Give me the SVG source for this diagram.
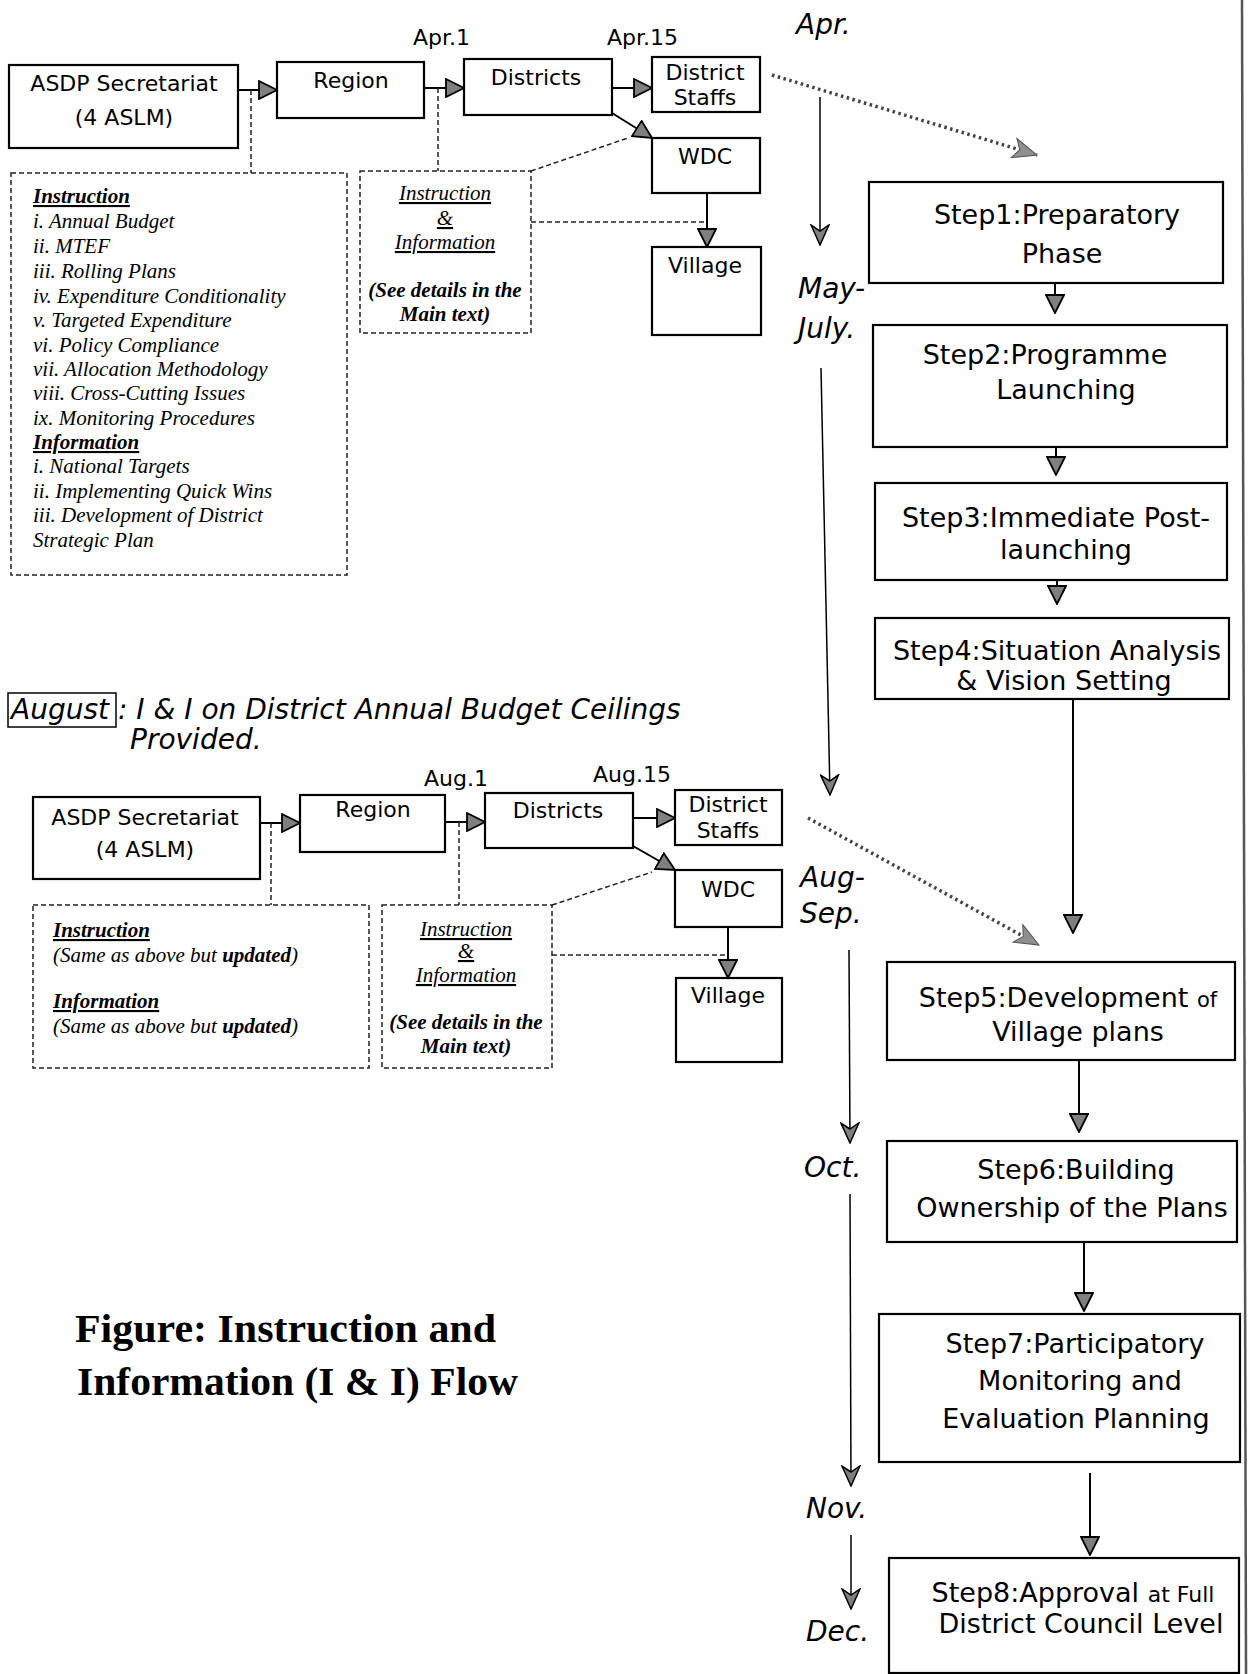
<svg xmlns="http://www.w3.org/2000/svg" width="1255" height="1674" viewBox="0 0 1255 1674">
<defs>
<marker id="ah" viewBox="0 0 20 20" refX="19" refY="10" markerWidth="20" markerHeight="20" markerUnits="userSpaceOnUse" orient="auto">
<path d="M1,1 L19,10 L1,19 Z" fill="#7f7f7f" stroke="#000" stroke-width="1.8"/>
</marker>
<marker id="tv" viewBox="0 0 22 20" refX="21" refY="10" markerWidth="22" markerHeight="20" markerUnits="userSpaceOnUse" orient="auto">
<path d="M1,1 L21,10 L1,19 L7,10 Z" fill="#7f7f7f" stroke="#000" stroke-width="1.5"/>
</marker>
<marker id="dh" viewBox="0 0 26 22" refX="25" refY="11" markerWidth="26" markerHeight="22" markerUnits="userSpaceOnUse" orient="auto">
<path d="M1,1 L25,11 L1,21 L7,11 Z" fill="#8f8f8f" stroke="#555" stroke-width="1"/>
</marker>
</defs>
<style>
.box{fill:#fff;stroke:#000;stroke-width:2.2}
.dbox{fill:none;stroke:#222;stroke-width:1.5;stroke-dasharray:5 3}
.lbl{font-family:"DejaVu Sans","Liberation Sans",sans-serif;font-size:22px;fill:#000;text-anchor:middle}
.date{font-family:"DejaVu Sans","Liberation Sans",sans-serif;font-size:22px;fill:#000}
.step{font-family:"DejaVu Sans","Liberation Sans",sans-serif;font-size:27px;fill:#000;text-anchor:middle}
.mon{font-family:"DejaVu Sans","Liberation Sans",sans-serif;font-size:28px;font-style:italic;fill:#000}
.it{font-family:"Liberation Serif","Times New Roman",serif;font-size:21px;font-style:italic;fill:#000}
.bi{font-weight:bold}
.u{text-decoration:underline}
.ctr{text-anchor:middle}
.flow{stroke:#000;stroke-width:2;fill:none;marker-end:url(#ah)}
.time{stroke:#000;stroke-width:1.5;fill:none;marker-end:url(#tv)}
.dot{stroke:#222;stroke-width:1.5;stroke-dasharray:5 3;fill:none}
.dots{stroke:#444;stroke-width:3.5;stroke-dasharray:2.5 3.5;fill:none;marker-end:url(#dh)}
.title{font-family:"Liberation Serif","Times New Roman",serif;font-size:41px;font-weight:bold;fill:#000}
</style>
<rect x="0" y="0" width="1255" height="1674" fill="#fff"/>

<g id="connectors">
<line class="flow" x1="238" y1="90" x2="277" y2="90"/>
<line class="flow" x1="424" y1="88" x2="464" y2="88"/>
<line class="flow" x1="612" y1="88" x2="652" y2="88"/>
<line class="flow" x1="612" y1="113" x2="652" y2="138"/>
<line class="flow" x1="707" y1="193" x2="707" y2="247"/>
<line class="dot" x1="251" y1="90" x2="251" y2="173"/>
<line class="dot" x1="438" y1="88" x2="438" y2="171"/>
<line class="dot" x1="531" y1="171" x2="628" y2="138"/>
<line class="dot" x1="531" y1="222" x2="707" y2="222"/>
<line class="dots" x1="772" y1="75" x2="1037" y2="155"/>
<line class="flow" x1="260" y1="823" x2="300" y2="823"/>
<line class="flow" x1="445" y1="822" x2="485" y2="822"/>
<line class="flow" x1="633" y1="818" x2="675" y2="818"/>
<line class="flow" x1="633" y1="846" x2="675" y2="870"/>
<line class="flow" x1="728" y1="927" x2="728" y2="978"/>
<line class="dot" x1="271" y1="823" x2="271" y2="905"/>
<line class="dot" x1="459" y1="822" x2="459" y2="905"/>
<line class="dot" x1="552" y1="905" x2="652" y2="872"/>
<line class="dot" x1="552" y1="955" x2="728" y2="955"/>
<line class="dots" x1="808" y1="818" x2="1039" y2="945"/>
<line class="time" x1="820" y1="97" x2="820" y2="245"/>
<line class="time" x1="821" y1="368" x2="830" y2="795"/>
<line class="time" x1="849" y1="950" x2="850" y2="1143"/>
<line class="time" x1="850" y1="1194" x2="851" y2="1486"/>
<line class="time" x1="851" y1="1535" x2="851" y2="1609"/>
<line class="flow" x1="1055" y1="283" x2="1055" y2="313"/>
<line class="flow" x1="1056" y1="447" x2="1056" y2="475"/>
<line class="flow" x1="1057" y1="580" x2="1057" y2="604"/>
<line class="flow" x1="1073" y1="699" x2="1073" y2="933"/>
<line class="flow" x1="1079" y1="1060" x2="1079" y2="1132"/>
<line class="flow" x1="1084" y1="1242" x2="1084" y2="1311"/>
<line class="flow" x1="1090" y1="1473" x2="1090" y2="1555"/>
</g>

<line id="frame" x1="1242" y1="0" x2="1246" y2="1674" stroke="#555" stroke-width="2.5"/>

<g id="asdp1"><rect class="box" x="9" y="65" width="229" height="83"/>
<text class="lbl" x="124" y="91">ASDP Secretariat</text><text class="lbl" x="124" y="125">(4 ASLM)</text></g>
<g id="region1"><rect class="box" x="277" y="62" width="147" height="56"/><text class="lbl" x="351" y="88">Region</text></g>
<g id="districts1"><rect class="box" x="464" y="59" width="148" height="56"/><text class="lbl" x="536" y="85">Districts</text></g>
<g id="staffs1"><rect class="box" x="652" y="57" width="108" height="55"/>
<text class="lbl" x="705" y="80">District</text><text class="lbl" x="705" y="105">Staffs</text></g>
<g id="wdc1"><rect class="box" x="652" y="138" width="108" height="55"/><text class="lbl" x="705" y="164">WDC</text></g>
<g id="village1"><rect class="box" x="652" y="247" width="109" height="88"/><text class="lbl" x="705" y="273">Village</text></g>
<g id="dates1"><text class="date" x="413" y="45">Apr.1</text><text class="date" x="607" y="45">Apr.15</text></g>

<g id="instr1"><rect class="dbox" x="11" y="173" width="336" height="402"/>
<text class="it" x="33" y="203"><tspan class="bi u">Instruction</tspan></text>
<text class="it" x="33" y="228">i. Annual Budget</text>
<text class="it" x="33" y="253">ii. MTEF</text>
<text class="it" x="33" y="278">iii. Rolling Plans</text>
<text class="it" x="33" y="303">iv. Expenditure Conditionality</text>
<text class="it" x="33" y="327">v. Targeted Expenditure</text>
<text class="it" x="33" y="352">vi. Policy Compliance</text>
<text class="it" x="33" y="376">vii. Allocation Methodology</text>
<text class="it" x="33" y="400">viii. Cross-Cutting Issues</text>
<text class="it" x="33" y="425">ix. Monitoring Procedures</text>
<text class="it" x="33" y="449"><tspan class="bi u">Information</tspan></text>
<text class="it" x="33" y="473">i. National Targets</text>
<text class="it" x="33" y="498">ii. Implementing Quick Wins</text>
<text class="it" x="33" y="522">iii. Development of District</text>
<text class="it" x="33" y="547">Strategic Plan</text></g>

<g id="ii1"><rect class="dbox" x="360" y="171" width="171" height="162"/>
<text class="it ctr" x="445" y="200"><tspan class="u">Instruction</tspan></text>
<text class="it ctr" x="445" y="225"><tspan class="u">&amp;</tspan></text>
<text class="it ctr" x="445" y="249"><tspan class="u">Information</tspan></text>
<text class="it ctr bi" x="445" y="297">(See details in the</text>
<text class="it ctr bi" x="445" y="321">Main text)</text></g>

<g id="months">
<text class="mon" x="796" y="34">Apr.</text>
<text class="mon" x="798" y="298">May-</text>
<text class="mon" x="798" y="338">July.</text>
<text class="mon" x="800" y="887">Aug-</text>
<text class="mon" x="800" y="923">Sep.</text>
<text class="mon" x="804" y="1177">Oct.</text>
<text class="mon" x="806" y="1518">Nov.</text>
<text class="mon" x="806" y="1641">Dec.</text>
</g>

<g id="step1"><rect class="box" x="869" y="182" width="354" height="101"/>
<text class="step" x="1057" y="224">Step1:Preparatory</text><text class="step" x="1062" y="263">Phase</text></g>
<g id="step2"><rect class="box" x="873" y="325" width="354" height="122"/>
<text class="step" x="1045" y="364">Step2:Programme</text><text class="step" x="1066" y="399">Launching</text></g>
<g id="step3"><rect class="box" x="875" y="483" width="352" height="97"/>
<text class="step" x="1056" y="527">Step3:Immediate Post-</text><text class="step" x="1066" y="559">launching</text></g>
<g id="step4"><rect class="box" x="875" y="618" width="354" height="81"/>
<text class="step" x="1057" y="660">Step4:Situation Analysis</text><text class="step" x="1064" y="690">&amp; Vision Setting</text></g>
<g id="step5"><rect class="box" x="887" y="962" width="348" height="98"/>
<text class="step" x="1068" y="1007">Step5:Development <tspan font-size="21">of</tspan></text><text class="step" x="1078" y="1041">Village plans</text></g>
<g id="step6"><rect class="box" x="887" y="1141" width="350" height="101"/>
<text class="step" x="1076" y="1179">Step6:Building</text><text class="step" x="1072" y="1217">Ownership of the Plans</text></g>
<g id="step7"><rect class="box" x="879" y="1314" width="361" height="148"/>
<text class="step" x="1075" y="1353">Step7:Participatory</text><text class="step" x="1080" y="1390">Monitoring and</text><text class="step" x="1076" y="1428">Evaluation Planning</text></g>
<g id="step8"><rect class="box" x="889" y="1558" width="350" height="115"/>
<text class="step" x="1073" y="1602">Step8:Approval <tspan font-size="22">at Full</tspan></text><text class="step" x="1081" y="1633" font-size="23">District Council Level</text></g>

<g id="august">
<rect x="8" y="693" width="108" height="34" fill="none" stroke="#000" stroke-width="1.5"/>
<text class="mon" x="11" y="719">August</text>
<text class="mon" x="118" y="719">: I &amp; I on District Annual Budget Ceilings</text>
<text class="mon" x="130" y="749">Provided.</text>
</g>

<g id="asdp2"><rect class="box" x="33" y="797" width="227" height="82"/>
<text class="lbl" x="145" y="825">ASDP Secretariat</text><text class="lbl" x="145" y="857">(4 ASLM)</text></g>
<g id="region2"><rect class="box" x="300" y="795" width="145" height="57"/><text class="lbl" x="373" y="817">Region</text></g>
<g id="districts2"><rect class="box" x="485" y="793" width="148" height="55"/><text class="lbl" x="558" y="818">Districts</text></g>
<g id="staffs2"><rect class="box" x="675" y="790" width="107" height="55"/>
<text class="lbl" x="728" y="812">District</text><text class="lbl" x="728" y="838">Staffs</text></g>
<g id="wdc2"><rect class="box" x="675" y="870" width="107" height="57"/><text class="lbl" x="728" y="897">WDC</text></g>
<g id="village2"><rect class="box" x="676" y="978" width="106" height="84"/><text class="lbl" x="728" y="1003">Village</text></g>
<g id="dates2"><text class="date" x="424" y="786">Aug.1</text><text class="date" x="593" y="782">Aug.15</text></g>

<g id="instr2"><rect class="dbox" x="33" y="905" width="336" height="163"/>
<text class="it" x="53" y="937"><tspan class="bi u">Instruction</tspan></text>
<text class="it" x="53" y="962">(Same as above but <tspan class="bi">updated</tspan>)</text>
<text class="it" x="53" y="1008"><tspan class="bi u">Information</tspan></text>
<text class="it" x="53" y="1033">(Same as above but <tspan class="bi">updated</tspan>)</text></g>

<g id="ii2"><rect class="dbox" x="382" y="905" width="170" height="163"/>
<text class="it ctr" x="466" y="936"><tspan class="u">Instruction</tspan></text>
<text class="it ctr" x="466" y="958"><tspan class="u">&amp;</tspan></text>
<text class="it ctr" x="466" y="982"><tspan class="u">Information</tspan></text>
<text class="it ctr bi" x="466" y="1029">(See details in the</text>
<text class="it ctr bi" x="466" y="1053">Main text)</text></g>

<g id="title">
<text class="title" x="75" y="1342" textLength="421" lengthAdjust="spacingAndGlyphs">Figure: Instruction and</text>
<text class="title" x="77" y="1395" textLength="441" lengthAdjust="spacingAndGlyphs">Information (I &amp; I) Flow</text>
</g>
</svg>
